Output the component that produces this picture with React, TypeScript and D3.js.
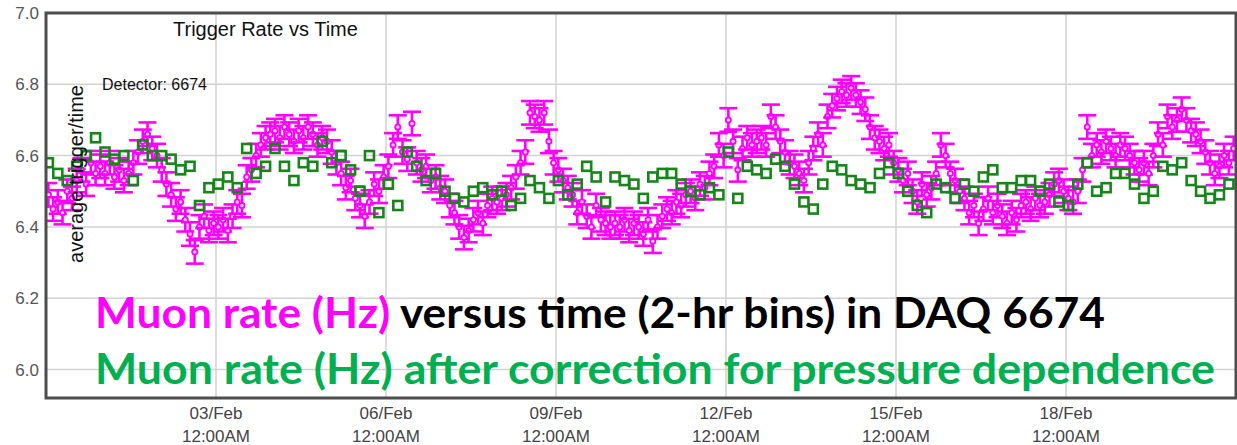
import React from "react";
import * as d3 from "d3";

// Muon trigger rate per 2-hour bin (Hz), detector 6674, starting 31 Jan 00:00
const rawRate: number[] = [
  // 31 Jan
  6.49, 6.45, 6.47, 6.44, 6.50, 6.48, 6.53, 6.56, 6.52, 6.58, 6.55, 6.57,
  // 01 Feb
  6.55, 6.58, 6.54, 6.56, 6.53, 6.55, 6.58, 6.61, 6.64, 6.66, 6.62, 6.60,
  // 02 Feb
  6.56, 6.52, 6.49, 6.45, 6.47, 6.42, 6.38, 6.33, 6.40, 6.43, 6.39, 6.41,
  // 03 Feb
  6.40, 6.42, 6.39, 6.43, 6.47, 6.46, 6.54, 6.56, 6.60, 6.63, 6.65, 6.66,
  // 04 Feb
  6.67, 6.65, 6.68, 6.66, 6.64, 6.67, 6.65, 6.68, 6.66, 6.63, 6.65, 6.64,
  // 05 Feb
  6.61, 6.58, 6.55, 6.51, 6.53, 6.48, 6.46, 6.43, 6.47, 6.52, 6.50, 6.54,
  // 06 Feb
  6.57, 6.63, 6.68, 6.61, 6.59, 6.69, 6.58, 6.56, 6.57, 6.53, 6.54, 6.51,
  // 07 Feb
  6.50, 6.46, 6.44, 6.40, 6.37, 6.39, 6.42, 6.44, 6.41, 6.46, 6.48, 6.47,
  // 08 Feb
  6.48, 6.49, 6.51, 6.54, 6.58, 6.61, 6.72, 6.71, 6.70, 6.72, 6.64, 6.58,
  // 09 Feb
  6.56, 6.53, 6.51, 6.49, 6.44, 6.47, 6.43, 6.40, 6.46, 6.42, 6.41, 6.40,
  // 10 Feb
  6.41, 6.40, 6.42, 6.39, 6.41, 6.40, 6.38, 6.42, 6.36, 6.40, 6.43, 6.45,
  // 11 Feb
  6.44, 6.47, 6.46, 6.49, 6.50, 6.48, 6.52, 6.51, 6.55, 6.57, 6.63, 6.60,
  // 12 Feb
  6.70, 6.64, 6.56, 6.62, 6.65, 6.63, 6.64, 6.65, 6.63, 6.71, 6.68, 6.64,
  // 13 Feb
  6.61, 6.58, 6.57, 6.55, 6.53, 6.58, 6.62, 6.66, 6.63, 6.71, 6.74, 6.76,
  // 14 Feb
  6.78, 6.77, 6.79, 6.77, 6.75, 6.73, 6.68, 6.65, 6.64, 6.62, 6.63, 6.58,
  // 15 Feb
  6.56, 6.53, 6.55, 6.50, 6.47, 6.52, 6.49, 6.51, 6.55, 6.63, 6.60, 6.55,
  // 16 Feb
  6.53, 6.50, 6.48, 6.44, 6.46, 6.41, 6.45, 6.48, 6.44, 6.46, 6.43, 6.41,
  // 17 Feb
  6.44, 6.42, 6.46, 6.47, 6.45, 6.48, 6.46, 6.47, 6.49, 6.52, 6.53, 6.50,
  // 18 Feb
  6.48, 6.47, 6.50, 6.56, 6.68, 6.60, 6.63, 6.61, 6.64, 6.62, 6.60, 6.63,
  // 19 Feb
  6.62, 6.60, 6.58, 6.56, 6.58, 6.55, 6.60, 6.66, 6.63, 6.71, 6.68, 6.70,
  // 20 Feb
  6.73, 6.70, 6.67, 6.66, 6.64, 6.61, 6.58, 6.55, 6.57, 6.60, 6.58, 6.62,
];

// Statistical uncertainty on each 2-hour rate bin (Hz)
const rateError = 0.033;

// Pressure-corrected rate (Hz), 4-hour spacing, starting 31 Jan 00:00
const correctedRate: number[] = [
  6.58, 6.55, 6.53, 6.57, 6.60, 6.65,
  6.61, 6.59, 6.60, 6.53, 6.63, 6.60,
  6.60, 6.59, 6.56, 6.57, 6.46, 6.51,
  6.52, 6.54, 6.51, 6.62, 6.55, 6.57,
  6.62, 6.57, 6.53, 6.58, 6.57, 6.64,
  6.58, 6.60, 6.56, 6.50, 6.60, 6.44,
  6.52, 6.46, 6.61, 6.57, 6.53, 6.55,
  6.50, 6.48, 6.47, 6.50, 6.51, 6.49,
  6.50, 6.46, 6.48, 6.53, 6.51, 6.48,
  6.53, 6.49, 6.52, 6.57, 6.54, 6.47,
  6.54, 6.53, 6.52, 6.48, 6.54, 6.55,
  6.55, 6.52, 6.50, 6.49, 6.51, 6.49,
  6.61, 6.48, 6.57, 6.56, 6.55, 6.59,
  6.57, 6.52, 6.47, 6.45, 6.52, 6.57,
  6.56, 6.53, 6.52, 6.51, 6.55, 6.58,
  6.55, 6.50, 6.46, 6.44, 6.52, 6.51,
  6.48, 6.52, 6.50, 6.54, 6.56, 6.51,
  6.51, 6.53, 6.53, 6.50, 6.52, 6.47,
  6.46, 6.52, 6.58, 6.50, 6.51, 6.55,
  6.55, 6.52, 6.48, 6.50, 6.57, 6.56,
  6.58, 6.53, 6.50, 6.48, 6.49, 6.52,
];

const yTicks: number[] = [6.0, 6.2, 6.4, 6.6, 6.8, 7.0];
const xTickDays: number[] = [3, 6, 9, 12, 15, 18]; // days of February

const titleText = "Trigger Rate vs Time";
const detectorText = "Detector: 6674";
const yLabel = "average trigger/time";
const captionRawHighlight = "Muon rate (Hz)";
const captionRawRest = " versus time (2-hr bins) in DAQ 6674";
const captionCorrected = "Muon rate (Hz) after correction for pressure dependence";

const W = 1237;
const H = 445;
const plot = { left: 46, top: 13, right: 1236, bottom: 398 };

const start = new Date(Date.UTC(2016, 0, 31, 0, 0));
const end = new Date(Date.UTC(2016, 1, 21, 0, 0));
const HOUR = 3600 * 1000;

export default function App() {
  const x = d3.scaleUtc().domain([start, end]).range([plot.left, plot.right]);
  const y = d3.scaleLinear().domain([5.92, 7.0]).range([plot.bottom, plot.top]);

  const rawPts = rawRate.map((v, i) => ({ t: new Date(start.getTime() + (i * 2 + 1) * HOUR), v }));
  const corrPts = correctedRate.map((v, i) => ({ t: new Date(start.getTime() + (i * 4 + 1) * HOUR), v }));
  const xTicks = xTickDays.map((d) => new Date(Date.UTC(2016, 1, d, 0, 0)));
  const fmtDay = d3.utcFormat("%d/%b");
  const fmtTime = d3.utcFormat("%I:%M%p");

  const magenta = "#ff00ff";
  const green = "#17861a";
  const font = "'Liberation Sans', Arial, sans-serif";
  const capW = 9;

  return (
    <svg width={W} height={H} style={{ position: "absolute", left: 0, top: 0, background: "#fff" }}>
      <defs>
        <clipPath id="plotClip">
          <rect x={plot.left} y={plot.top} width={plot.right - plot.left} height={plot.bottom - plot.top} />
        </clipPath>
      </defs>
      <rect x={0} y={0} width={W} height={H} fill="#fff" />

      {/* grid */}
      {yTicks.map((t) => (
        <line key={"gy" + t} x1={plot.left} x2={plot.right} y1={y(t)} y2={y(t)} stroke="#d2d2d2" strokeWidth={1.5} />
      ))}
      {xTicks.map((t, i) => (
        <line key={"gx" + i} x1={x(t)} x2={x(t)} y1={plot.top} y2={plot.bottom} stroke="#d2d2d2" strokeWidth={1.5} />
      ))}

      {/* y tick labels */}
      {yTicks.map((t) => (
        <text key={"ty" + t} x={39} y={y(t)} dy="0.36em" textAnchor="end" fontFamily={font} fontSize={17} fill="#555">
          {d3.format(".1f")(t)}
        </text>
      ))}

      {/* x tick labels */}
      {xTicks.map((t, i) => (
        <g key={"tx" + i} fontFamily={font} fontSize={17} fill="#444" textAnchor="middle">
          <text x={x(t)} y={419}>{fmtDay(t)}</text>
          <text x={x(t)} y={442}>{fmtTime(t)}</text>
        </g>
      ))}

      {/* data */}
      <g clipPath="url(#plotClip)">
        {rawPts.map((d, i) => {
          const cx = x(d.t);
          const lo = y(d.v - rateError);
          const hi = y(d.v + rateError);
          return (
            <g key={"r" + i} stroke={magenta} strokeWidth={2.6} fill="none">
              <line x1={cx} x2={cx} y1={lo} y2={hi} />
              <line x1={cx - capW} x2={cx + capW} y1={lo} y2={lo} />
              <line x1={cx - capW} x2={cx + capW} y1={hi} y2={hi} />
              <circle cx={cx} cy={y(d.v)} r={2.6} fill="#ffd6ff" strokeWidth={1.8} />
            </g>
          );
        })}
        {corrPts.map((d, i) => (
          <rect key={"c" + i} x={x(d.t) - 4.5} y={y(d.v) - 4.5} width={9} height={9} fill="none" stroke={green} strokeWidth={2.6} />
        ))}
      </g>

      {/* frame */}
      <rect x={plot.left} y={plot.top} width={plot.right - plot.left} height={plot.bottom - plot.top} fill="none" stroke="#4d4d4d" strokeWidth={3} />

      {/* in-plot labels */}
      <text x={173} y={36} fontFamily={font} fontSize={20} fill="#111">{titleText}</text>
      <text x={102} y={90} fontFamily={font} fontSize={16} fill="#111">{detectorText}</text>
      <text transform="translate(83,174) rotate(-90)" textAnchor="middle" fontFamily={font} fontSize={20} fill="#111">{yLabel}</text>

      {/* captions */}
      <text x={95} y={328} fontFamily="Lato, 'Open Sans', sans-serif" fontWeight={700} fontSize={42} textLength={1010} lengthAdjust="spacingAndGlyphs">
        <tspan fill={magenta}>{captionRawHighlight}</tspan>
        <tspan fill="#000">{captionRawRest}</tspan>
      </text>
      <text x={95} y={384} fontFamily="Lato, 'Open Sans', sans-serif" fontWeight={700} fontSize={42} fill="#00b050" textLength={1120} lengthAdjust="spacingAndGlyphs">
        {captionCorrected}
      </text>
    </svg>
  );
}
